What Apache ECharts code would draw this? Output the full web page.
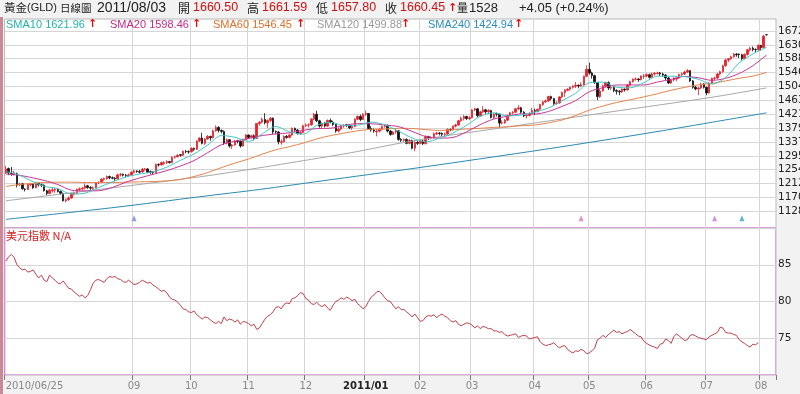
<!DOCTYPE html>
<html><head><meta charset="utf-8">
<script src="https://cdn.jsdelivr.net/npm/echarts@6/dist/echarts.min.js"></script>
<style>html,body{margin:0;padding:0;background:#f2f2f2}#c{width:800px;height:394px}</style>
</head><body><div id="c"></div>
<script>
// ---------- data ----------
const holidays = ['2010/07/05','2010/09/06','2010/11/25','2010/12/24','2011/01/17','2011/02/21','2011/04/22','2011/05/30','2011/07/04'];
const slotCount = 283; // trading-day slots on the axis (last 3 empty)
// [open, close, low, high]
const candles = [
[1244,1256,1241,1265],[1257,1244,1237,1260],[1242,1240,1235,1262],[1238,1244,1236,1250],[1242,1207,1200,1245],
[1208,1210,1204,1214],[1211,1196,1193,1214],[1195,1194,1188,1198],[1194,1209,1193,1212],[1208,1210,1204,1214],
[1210,1199,1196,1212],[1199,1214,1198,1217],[1213,1208,1203,1216],[1208,1207,1201,1212],[1207,1190,1188,1209],
[1190,1182,1176,1193],[1182,1192,1180,1196],[1190,1193,1185,1201],[1192,1194,1184,1198],[1194,1188,1185,1197],
[1188,1182,1178,1191],[1182,1160,1158,1185],[1160,1163,1155,1167],[1163,1168,1160,1173],[1168,1181,1166,1184],
[1180,1182,1176,1188],[1182,1194,1180,1197],[1194,1196,1189,1200],[1196,1198,1191,1202],[1198,1205,1194,1212],
[1205,1200,1196,1208],[1200,1198,1193,1204],[1198,1199,1192,1203],[1200,1214,1197,1216],[1214,1215,1210,1219],
[1215,1225,1213,1228],[1225,1227,1220,1230],[1227,1233,1223,1236],[1233,1229,1225,1236],[1229,1228,1225,1233],
[1228,1226,1220,1231],[1226,1238,1224,1242],[1238,1239,1233,1244],[1240,1237,1233,1242],[1237,1236,1230,1241],
[1236,1238,1233,1242],[1238,1246,1236,1249],[1246,1250,1242,1253],[1250,1248,1244,1252],[1248,1246,1242,1253],
[1247,1255,1244,1259],[1255,1256,1250,1259],[1256,1246,1243,1258],[1248,1246,1240,1251],[1246,1245,1240,1250],
[1245,1269,1244,1272],[1269,1268,1263,1273],[1268,1275,1266,1278],[1272,1275,1268,1279],[1275,1278,1271,1282],
[1278,1275,1272,1280],[1275,1291,1273,1294],[1291,1293,1287,1296],[1293,1297,1290,1300],[1299,1297,1293,1300],
[1297,1309,1295,1311],[1309,1308,1303,1313],[1308,1307,1302,1312],[1308,1318,1305,1321],[1318,1315,1310,1320],
[1315,1340,1313,1342],[1340,1349,1337,1351],[1349,1333,1330,1365],[1333,1346,1328,1349],[1346,1354,1344,1358],
[1354,1350,1341,1356],[1350,1371,1348,1374],[1371,1381,1368,1387],[1381,1372,1366,1385],[1372,1369,1363,1375],
[1369,1334,1328,1372],[1334,1344,1330,1348],[1344,1325,1320,1346],[1325,1328,1316,1331],[1328,1340,1326,1343],
[1340,1339,1333,1344],[1339,1325,1320,1342],[1325,1345,1323,1347],[1345,1358,1342,1361],[1358,1351,1346,1360],
[1351,1356,1348,1359],[1356,1348,1342,1360],[1348,1393,1346,1394],[1393,1397,1386,1399],[1397,1405,1393,1410],
[1405,1395,1390,1424],[1395,1402,1380,1405],[1402,1409,1397,1412],[1409,1367,1361,1411],[1369,1367,1360,1372],
[1367,1338,1330,1370],[1336,1338,1329,1345],[1338,1354,1336,1357],[1354,1351,1347,1358],[1351,1358,1348,1362],
[1358,1378,1356,1381],[1378,1373,1368,1381],[1373,1363,1359,1376],[1363,1366,1358,1370],[1366,1386,1364,1389],
[1386,1388,1382,1393],[1388,1389,1381,1393],[1389,1406,1386,1409],[1406,1421,1403,1425],[1421,1401,1397,1431],
[1401,1385,1380,1404],[1385,1393,1380,1396],[1393,1385,1381,1397],[1385,1402,1383,1405],[1402,1397,1393,1408],
[1397,1390,1385,1401],[1390,1370,1365,1392],[1370,1376,1366,1381],[1376,1385,1373,1388],[1385,1387,1380,1391],
[1389,1387,1382,1392],[1387,1380,1376,1390],[1380,1384,1374,1389],[1384,1406,1382,1408],[1406,1414,1403,1417],
[1414,1405,1400,1420],[1405,1421,1403,1424],[1421,1423,1415,1432],[1423,1378,1374,1424],[1378,1373,1368,1385],
[1373,1370,1365,1378],[1368,1370,1354,1376],[1370,1375,1366,1380],[1375,1384,1372,1387],[1384,1387,1380,1390],
[1387,1370,1366,1390],[1370,1360,1356,1373],[1360,1367,1358,1370],[1367,1371,1362,1376],[1371,1345,1341,1373],
[1345,1342,1337,1349],[1342,1345,1338,1348],[1345,1333,1330,1348],[1333,1342,1330,1346],[1342,1318,1315,1344],
[1318,1336,1309,1340],[1336,1333,1328,1340],[1333,1340,1330,1345],[1340,1332,1328,1343],[1332,1353,1330,1357],
[1353,1349,1343,1356],[1349,1350,1345,1354],[1350,1362,1347,1366],[1362,1364,1358,1368],[1364,1363,1357,1367],
[1363,1360,1354,1366],[1360,1361,1354,1365],[1361,1375,1359,1378],[1375,1374,1369,1378],[1374,1385,1372,1387],
[1385,1388,1381,1392],[1388,1401,1386,1404],[1401,1408,1398,1414],[1408,1414,1402,1418],[1414,1408,1403,1416],
[1408,1410,1403,1415],[1410,1434,1408,1436],[1434,1437,1430,1440],[1437,1416,1412,1439],[1416,1428,1413,1431],
[1428,1434,1424,1445],[1434,1428,1422,1437],[1428,1432,1424,1436],[1432,1411,1408,1434],[1411,1421,1406,1424],
[1423,1421,1414,1426],[1421,1394,1380,1423],[1394,1395,1390,1402],[1395,1403,1392,1406],[1403,1417,1400,1420],
[1417,1425,1414,1428],[1425,1427,1420,1430],[1427,1437,1424,1440],[1437,1440,1433,1448],[1440,1427,1423,1443],
[1427,1416,1412,1430],[1416,1417,1408,1420],[1417,1423,1414,1427],[1423,1432,1420,1440],[1432,1429,1418,1438],
[1429,1436,1426,1438],[1436,1450,1433,1452],[1450,1458,1446,1461],[1458,1461,1455,1465],[1461,1474,1458,1476],
[1474,1468,1463,1477],[1468,1453,1449,1470],[1453,1455,1450,1460],[1455,1473,1452,1475],[1473,1486,1470,1489],
[1486,1493,1473,1497],[1493,1496,1490,1499],[1496,1502,1492,1504],[1502,1505,1498,1508],[1505,1508,1500,1518],
[1508,1506,1499,1511],[1506,1510,1503,1517],[1510,1535,1507,1537],[1535,1556,1533,1568],[1556,1545,1540,1576],
[1545,1537,1528,1549],[1537,1516,1512,1540],[1516,1474,1463,1518],[1474,1491,1470,1497],[1491,1505,1489,1510],
[1505,1516,1502,1519],[1516,1500,1494,1520],[1500,1501,1494,1508],[1501,1492,1487,1506],[1492,1490,1480,1496],
[1490,1488,1478,1494],[1488,1496,1485,1499],[1496,1494,1489,1499],[1494,1509,1492,1512],[1509,1519,1506,1522],
[1519,1526,1516,1529],[1526,1527,1522,1532],[1527,1525,1518,1530],[1525,1536,1523,1538],[1534,1536,1528,1542],
[1536,1540,1532,1544],[1540,1532,1528,1543],[1532,1542,1530,1546],[1542,1544,1537,1548],[1544,1545,1540,1549],
[1545,1542,1536,1548],[1542,1539,1533,1546],[1539,1530,1524,1542],[1530,1515,1512,1533],[1515,1524,1512,1528],
[1524,1530,1520,1532],[1527,1530,1520,1534],[1530,1540,1527,1543],[1540,1542,1535,1546],[1542,1548,1539,1552],
[1548,1552,1545,1557],[1552,1521,1518,1554],[1521,1502,1498,1524],[1502,1497,1493,1506],[1497,1500,1478,1503],
[1500,1512,1497,1516],[1512,1502,1498,1515],[1502,1485,1478,1504],[1485,1515,1483,1518],[1515,1529,1512,1531],
[1529,1530,1524,1534],[1530,1542,1527,1545],[1542,1549,1538,1552],[1549,1567,1546,1570],[1567,1584,1564,1588],
[1584,1588,1578,1590],[1588,1594,1585,1597],[1594,1602,1591,1605],[1602,1600,1594,1605],[1602,1600,1590,1604],
[1600,1589,1583,1603],[1589,1601,1586,1604],[1601,1615,1598,1618],[1615,1620,1610,1624],[1620,1616,1610,1625],
[1616,1615,1608,1619],[1615,1628,1612,1632],[1628,1622,1613,1630],[1622,1656,1619,1660],[1660.5,1660.45,1657.8,1661.59]
];
// moving averages: [day index, value]
const sma10 = [[0,1248],[4,1240],[9,1221.0],[14,1203.7],[19,1196.7],[24,1180.3],[29,1182.9],[34,1200.1],[39,1216.8],[44,1231.8],[49,1240.4],[54,1247.6],[59,1261.3],[64,1281.8],[69,1301.0],[74,1327.9],[79,1356.5],[84,1351.4],[89,1338.9],[94,1361.7],[99,1383.9],[104,1367.9],[109,1360.5],[114,1387.1],[119,1396.7],[124,1387.0],[129,1387.9],[134,1397.1],[139,1388.6],[144,1369.9],[149,1349.3],[154,1337.4],[159,1348.2],[164,1364.3],[169,1387.4],[174,1414.4],[179,1425.1],[184,1415.6],[189,1418.6],[194,1427.3],[199,1439.6],[204,1461.4],[209,1483.9],[214,1515.6],[219,1517.5],[224,1502.2],[229,1500.5],[234,1515.6],[239,1535.3],[244,1535.3],[249,1534.0],[254,1526.2],[259,1511.5],[264,1531.5],[269,1575.6],[274,1602.5],[279,1622.2]];
const sma20 = [[0,1240],[4,1238],[9,1230.5],[14,1221.4],[19,1208.9],[24,1192.0],[29,1189.8],[34,1190.2],[39,1199.9],[44,1216.0],[49,1228.6],[54,1239.7],[59,1250.9],[64,1264.7],[69,1281.2],[74,1304.9],[79,1328.8],[84,1339.7],[89,1347.7],[94,1356.6],[99,1361.4],[104,1364.8],[109,1372.2],[114,1377.5],[119,1378.6],[124,1387.1],[129,1392.3],[134,1392.1],[139,1388.3],[144,1383.5],[149,1369.0],[154,1353.7],[159,1348.8],[164,1350.9],[169,1367.8],[174,1389.4],[179,1406.3],[184,1415.0],[189,1421.9],[194,1421.5],[199,1429.1],[204,1444.4],[209,1461.8],[214,1488.5],[219,1500.7],[224,1508.9],[229,1509.0],[234,1508.9],[239,1517.9],[244,1525.5],[249,1534.7],[254,1530.8],[259,1522.8],[264,1528.9],[269,1543.6],[274,1567.0],[279,1598.9]];
const sma60 = [[0,1203],[4,1208],[9,1212],[14,1215],[19,1216],[24,1216],[29,1215],[34,1215],[39,1215],[44,1216],[49,1217],[54,1218],[59,1219.9],[64,1224.2],[69,1233.2],[74,1244.9],[79,1259.8],[84,1273.4],[89,1285.8],[94,1300.4],[99,1313.7],[104,1323.1],[109,1333.7],[114,1346.3],[119,1356.3],[124,1363.8],[129,1370.7],[134,1375.4],[139,1376.1],[144,1378.5],[149,1377.8],[154,1374.4],[159,1371.9],[164,1373.8],[169,1376.4],[174,1378.4],[179,1381.1],[184,1383.1],[189,1386.2],[194,1388.2],[199,1394.7],[204,1403.4],[209,1417.1],[214,1433.1],[219,1445.4],[224,1456.1],[229,1464.2],[234,1473.0],[239,1482.6],[244,1492.9],[249,1501.8],[254,1509.4],[259,1513.8],[264,1521.1],[269,1529.1],[274,1535.6],[279,1546.5]];
const sma120 = [[0,1160],[30,1190],[71,1232],[92,1258],[104,1274],[126,1304],[149,1340],[187,1386],[222,1428],[259,1472],[279,1500]];
const sma240 = [[0,1104],[40,1140],[71,1172],[93,1194],[116,1220],[150,1258],[187,1302],[208,1328],[240,1370],[279,1425]];
// US dollar index (lower panel)
const dxy = [85.5,86.1,86.4,86.0,85.0,84.6,84.3,84.4,84.0,84.1,84.3,83.7,83.2,83.6,82.9,82.7,83.6,83.2,82.9,82.5,
82.4,82.8,82.3,81.8,81.7,81.3,81.0,80.7,80.9,80.5,80.8,81.6,82.5,82.9,83.0,82.8,82.6,83.1,83.4,83.3,
83.4,83.1,83.0,82.7,82.6,82.9,82.6,82.3,82.4,82.6,82.9,82.7,82.5,82.6,82.2,82.0,81.7,81.4,81.5,81.2,
80.6,80.3,80.2,79.9,79.5,79.0,78.9,78.6,78.5,78.7,78.2,77.9,77.6,77.9,77.8,77.5,77.2,77.0,77.3,77.0,
77.9,77.4,77.6,77.5,77.2,77.5,76.9,77.3,77.2,77.0,76.7,76.9,76.2,76.4,77.0,77.6,78.0,78.2,78.6,79.2,
79.3,79.0,79.6,79.8,79.7,80.4,80.5,80.8,81.2,81.1,80.4,80.2,79.7,79.6,79.9,79.5,79.3,79.6,79.1,78.8,
79.5,80.0,80.2,80.5,80.3,80.6,80.4,80.1,80.3,79.7,79.4,79.0,79.3,80.0,80.6,80.9,81.3,81.4,81.0,80.5,
80.1,80.0,79.5,79.0,79.3,78.9,78.9,78.6,78.3,77.9,78.3,77.8,77.3,77.4,77.9,78.1,78.0,78.2,77.8,78.1,
78.3,78.0,77.8,77.4,77.2,77.4,76.9,76.7,76.9,77.1,77.0,76.8,76.4,76.7,76.3,76.6,76.5,76.3,76.3,76.0,
76.0,75.8,75.9,75.5,75.3,75.4,75.5,75.6,75.1,75.3,75.4,75.3,74.9,75.0,75.1,75.2,74.5,74.2,74.0,74.1,
74.2,74.4,74.0,73.7,73.9,74.0,73.5,73.2,73.0,73.3,73.2,73.5,73.3,72.9,73.0,73.3,73.7,74.8,75.0,75.4,
75.1,75.5,75.8,76.1,75.8,75.9,75.6,75.8,75.9,76.2,75.9,75.6,75.3,75.2,74.6,74.3,74.1,73.9,73.8,73.6,
74.2,74.3,74.9,74.7,74.3,75.2,75.6,75.3,75.0,74.7,74.8,75.4,75.5,75.3,75.1,75.0,74.9,74.8,75.2,75.4,
75.6,75.8,76.5,76.4,75.8,75.7,75.7,75.5,75.4,74.8,74.5,74.3,74.0,73.8,74.2,74.1,74.4];
const priceTicks = [1128.2,1170.0,1211.8,1253.6,1295.4,1337.2,1379.0,1420.8,1462.6,1504.4,1546.2,1588.0,1629.8,1671.6];
const markDates = ['2010/06/25','2010/09/01','2010/10/01','2010/11/01','2010/12/01','2011/01/03','2011/02/01','2011/03/01','2011/04/01','2011/05/02','2011/06/01','2011/07/01','2011/08/01'];
const markLabels = ['2010/06/25','09','10','11','12','2011/01','02','03','04','05','06','07','08'];
const eventMarks = [[47,'#7a86d6'],[211,'#d27ab8'],[260,'#c07ac8'],[270,'#3aa6b8']];

// ---------- categories (trading days) ----------
function fmt(d){const p=n=>(n<10?'0':'')+n;return d.getFullYear()+'/'+p(d.getMonth()+1)+'/'+p(d.getDate());}
const dates=[];{let d=new Date(2010,5,25);while(dates.length<slotCount){const w=d.getDay();const s=fmt(d);if(w!==0&&w!==6&&holidays.indexOf(s)<0)dates.push(s);d.setDate(d.getDate()+1);}}
const labelMap={};markDates.forEach((d,i)=>labelMap[d]=markLabels[i]);
const gridSet=new Set(markDates.slice(1));
const tickSet=new Set(markDates);

const FONT='"DejaVu Sans",Verdana,sans-serif';
const ARIAL='"Liberation Sans",Arial,sans-serif';
const CJK='"Noto Sans CJK TC","Noto Sans CJK SC",sans-serif';
const GRID='#d6d6d6';

function txt(x,y,text,fill,font){return {type:'text',x:x,y:y,silent:true,z:100,style:{text:text,fill:fill,font:font,textVerticalAlign:'middle',verticalAlign:'middle'}};}

const graphics=[
 {type:'rect',shape:{x:0,y:17,width:3,height:377},style:{fill:'#c98a96'},silent:true,z:100},
 txt(4,8,'黃金','#222','11.5px '+CJK), txt(27,8,'(GLD)','#222','11px '+ARIAL),
 txt(60,8,'日線圖','#222','10.5px '+CJK),
 txt(97,8,'2011/08/03','#222','14px '+ARIAL),
 txt(178,8,'開','#222','12px '+CJK), txt(193,8,'1660.50','#cc1111','12.5px '+ARIAL),
 txt(247,8,'高','#222','12px '+CJK), txt(262,8,'1661.59','#cc1111','12.5px '+ARIAL),
 txt(316,8,'低','#222','12px '+CJK), txt(331,8,'1657.80','#cc1111','12.5px '+ARIAL),
 txt(385,8,'收','#222','12px '+CJK), txt(400,8,'1660.45','#cc1111','12.5px '+ARIAL),
 txt(448,8,'↑','#e01010','bold 11px '+FONT),
 txt(457,8,'量','#222','11px '+CJK), txt(469,8,'1528','#222','13px '+ARIAL),
 txt(519,8,'+4.05 (+0.24%)','#222','13px '+ARIAL),
 txt(6,24.5,'SMA10 1621.96','#22b3b3','11px '+ARIAL), txt(88,24.5,'↑','#e01010','bold 11px '+FONT),
 txt(110,24.5,'SMA20 1598.46','#c8288c','11px '+ARIAL), txt(192,24.5,'↑','#e01010','bold 11px '+FONT),
 txt(213,24.5,'SMA60 1546.45','#e0702a','11px '+ARIAL), txt(296,24.5,'↑','#e01010','bold 11px '+FONT),
 txt(317,24.5,'SMA120 1499.88','#999999','11px '+ARIAL), txt(401,24.5,'↑','#e01010','bold 11px '+FONT),
 txt(428,24.5,'SMA240 1424.94','#2a8ec0','11px '+ARIAL), txt(514,24.5,'↑','#e01010','bold 11px '+FONT),
 txt(6,236,'美元指數 N/A','#d02020','11px '+CJK)
];

function lineSeries(name,data,color){return {name:name,type:'line',xAxisIndex:0,yAxisIndex:0,data:data,showSymbol:false,symbol:'none',smooth:0.3,lineStyle:{width:1,color:color},z:3,silent:true};}

const option={
 animation:false,
 backgroundColor:'#f2f2f2',
 grid:[
  {left:4.6,top:19,width:771.4,height:209,show:true,backgroundColor:'#fff',borderColor:'#b8b8b8',borderWidth:1,containLabel:false,outerBoundsMode:'none'},
  {left:4.6,top:228,width:771.4,height:147,show:true,backgroundColor:'#fff',borderColor:'#d88ad8',borderWidth:1.5,containLabel:false,outerBoundsMode:'none'}
 ],
 xAxis:[
  {type:'category',gridIndex:0,data:dates,boundaryGap:true,axisLine:{show:false},axisTick:{show:false},axisLabel:{show:false},
   splitLine:{show:true,interval:(i,v)=>gridSet.has(v),lineStyle:{color:GRID,width:1}}},
  {type:'category',gridIndex:1,data:dates,boundaryGap:true,axisLine:{show:false},
   axisTick:{show:true,interval:(i,v)=>tickSet.has(v),length:5,lineStyle:{color:'#777'}},
   axisLabel:{show:true,interval:(i,v)=>tickSet.has(v),margin:6,color:'#888',fontSize:10,fontFamily:FONT,
     formatter:(v)=>{const l=labelMap[v];if(!l)return '';if(v===markDates[0])return '{first|'+l+'}';if(l.length>2)return '{b|'+l+'}';return l;},
     rich:{first:{padding:[0,0,0,57],color:'#888',fontSize:10,fontFamily:FONT},b:{fontWeight:'bold',color:'#222',fontSize:10,fontFamily:FONT}}},
   splitLine:{show:true,interval:(i,v)=>gridSet.has(v),lineStyle:{color:GRID,width:1}}}
 ],
 yAxis:[
  {type:'value',gridIndex:0,position:'right',min:1077.9,max:1707.8,scale:true,axisLine:{show:false},
   axisTick:{show:false,customValues:priceTicks},
   axisLabel:{show:true,customValues:priceTicks,formatter:v=>String(Math.round(v)),color:'#222',fontSize:10.5,fontFamily:FONT,margin:2,align:'left'},
   splitLine:{show:true,lineStyle:{color:GRID,width:1}}},
  {type:'value',gridIndex:1,position:'right',min:70,max:90,interval:5,axisLine:{show:false},axisTick:{show:false},
   axisLabel:{show:true,formatter:v=>(v===70||v===90)?'':String(v),color:'#222',fontSize:10.5,fontFamily:FONT,margin:2,align:'left'},
   splitLine:{show:true,lineStyle:{color:GRID,width:1}}}
 ],
 series:[
  {type:'candlestick',xAxisIndex:0,yAxisIndex:0,data:candles,barWidth:2,silent:true,z:2,
   itemStyle:{color:'#e8202a',color0:'#111',borderColor:'#e8202a',borderColor0:'#111',borderWidth:0.8}},
  lineSeries('SMA240',sma240,'#2a8ab2'),
  lineSeries('SMA120',sma120,'#a8a8a8'),
  lineSeries('SMA60',sma60,'#e8844c'),
  lineSeries('SMA20',sma20,'#c8349c'),
  lineSeries('SMA10',sma10,'#44c4c4'),
  {type:'scatter',xAxisIndex:0,yAxisIndex:0,symbol:'triangle',symbolSize:[5,6],silent:true,z:4,
   data:eventMarks.map(e=>({value:[e[0],1107],itemStyle:{color:e[1]}}))},
  {type:'line',xAxisIndex:1,yAxisIndex:1,data:dxy,showSymbol:false,symbol:'none',lineStyle:{width:1,color:'#c0404c'},silent:true}
 ],
 graphic:graphics
};
const chart=echarts.init(document.getElementById('c'),null,{renderer:'canvas',width:800,height:394});
chart.setOption(option);
</script>
</body></html>
